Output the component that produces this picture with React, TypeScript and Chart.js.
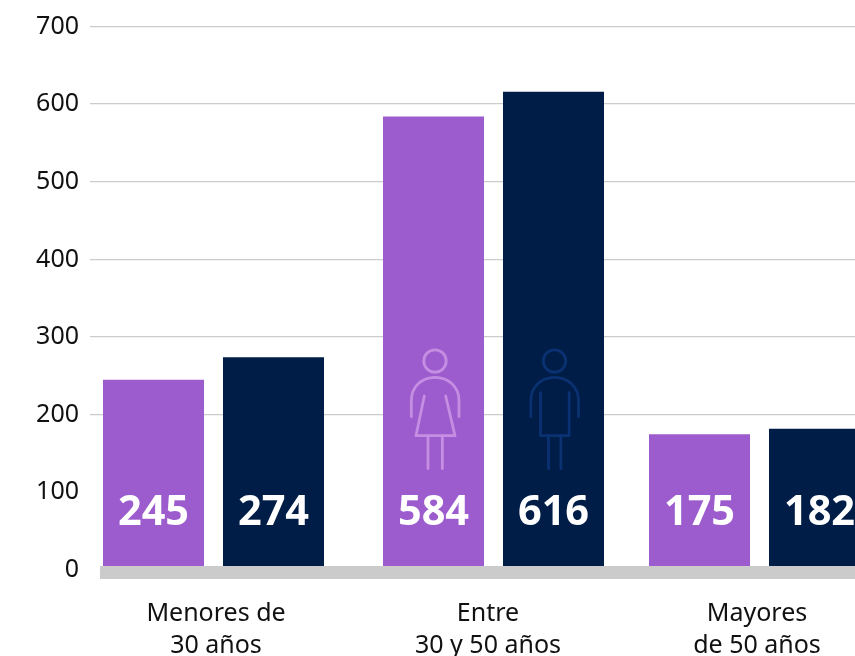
import React, { useEffect, useRef } from "react";
import { Chart, CategoryScale, registerables } from "chart.js";

const categories = [["Menores de", "30 años"], ["Entre", "30 y 50 años"], ["Mayores", "de 50 años"]];
const mujeres = [245, 584, 175];
const hombres = [274, 616, 182];
const yTicks = [0, 100, 200, 300, 400, 500, 600, 700];
const FONT = '"Noto Sans", "Open Sans", sans-serif';
const PURPLE = "#9c5cce";
const NAVY = "#001d47";

// Uneven group spacing of the original layout, on top of a category scale
const groupShift = [-4, 21, 32];
const labelShift = [-1.5, 15.5, 29.5];

class ShiftedCategory extends CategoryScale {
  static id = "shiftedCategory";
  static defaults = (CategoryScale as any).defaults;
  getPixelForValue(value: any) {
    const base = super.getPixelForValue(value);
    const i = typeof value === "number" ? Math.round(value) : categories.findIndex((c) => c === value);
    return base + (groupShift[i] ?? 0);
  }
  getPixelForTick(index: number) {
    const t = (this as any).ticks[index];
    if (!t) return null as any;
    return super.getPixelForValue(t.value) + labelShift[t.value];
  }
}

function drawFigure(ctx: CanvasRenderingContext2D, cx: number, bottom: number, color: string, woman: boolean) {
  const X = (z: number) => cx + (z - 165) / 3;
  const Y = (z: number) => bottom - 240 + z / 3;
  const line = (pts: number[][]) => {
    ctx.beginPath();
    pts.forEach((p, i) => (i ? ctx.lineTo(X(p[0]), Y(p[1])) : ctx.moveTo(X(p[0]), Y(p[1]))));
    ctx.stroke();
  };
  ctx.save();
  ctx.strokeStyle = color;
  ctx.lineWidth = 2.8;
  ctx.lineCap = "round";
  ctx.lineJoin = "round";
  ctx.beginPath();
  ctx.arc(X(165), Y(93), 11.2, 0, Math.PI * 2);
  ctx.stroke();
  ctx.beginPath();
  ctx.moveTo(X(94), Y(260));
  ctx.lineTo(X(94), Y(212));
  ctx.bezierCurveTo(X(94), Y(170), X(125), Y(142), X(165), Y(142));
  ctx.bezierCurveTo(X(205), Y(142), X(237), Y(170), X(237), Y(212));
  ctx.lineTo(X(237), Y(260));
  ctx.stroke();
  if (woman) {
    line([[133, 198], [108, 317], [225, 317], [197, 198]]);
  } else {
    line([[123, 188], [123, 317], [209, 317], [209, 188]]);
  }
  line([[woman ? 144 : 147, 317], [woman ? 144 : 147, 416]]);
  line([[woman ? 187 : 184, 317], [woman ? 187 : 184, 416]]);
  ctx.restore();
}

const decorations = {
  id: "decorations",
  afterDatasetsDraw(chart: any) {
    const { ctx, scales } = chart;
    const y0 = scales.y.getPixelForValue(0);
    ctx.save();
    ctx.fillStyle = "#cbcbcb";
    ctx.fillRect(100, y0 - 4, chart.width - 100, 13);
    ctx.restore();

    const m0 = chart.getDatasetMeta(0).data;
    const m1 = chart.getDatasetMeta(1).data;
    drawFigure(ctx, m0[1].x + 1.5, y0, "#c58ee3", true);
    drawFigure(ctx, m1[1].x + 1, y0, "#0a3172", false);

    ctx.save();
    ctx.fillStyle = "#ffffff";
    ctx.font = `700 41.5px ${FONT}`;
    ctx.textAlign = "center";
    ctx.textBaseline = "middle";
    [0, 1].forEach((d) => {
      const meta = chart.getDatasetMeta(d).data;
      const vals = d === 0 ? mujeres : hombres;
      meta.forEach((bar: any, i: number) => {
        ctx.fillText(String(vals[i]), bar.x, scales.y.getPixelForValue(73));
      });
    });
    ctx.restore();
  },
};

export default function App() {
  const ref = useRef<HTMLCanvasElement>(null);
  useEffect(() => {
    Chart.register(...registerables, ShiftedCategory as any);
    const chart = new Chart(ref.current!, {
      type: "bar",
      data: {
        labels: categories as any,
        datasets: [
          { label: "Mujeres", data: mujeres, backgroundColor: PURPLE, clip: false as any },
          { label: "Hombres", data: hombres, backgroundColor: NAVY, clip: false as any },
        ],
      },
      plugins: [decorations],
      options: {
        animation: false,
        responsive: false,
        categoryPercentage: 0.9023,
        barPercentage: 0.8417,
        layout: { padding: { top: 26.5, left: 0, right: 0, bottom: 0 } },
        plugins: { legend: { display: false }, tooltip: { enabled: false } },
        scales: {
          x: {
            type: "shiftedCategory" as any,
            grid: { display: false },
            border: { display: false },
            afterFit: (s: any) => { s.height = 86; },
            ticks: {
              color: "#111111",
              font: { family: FONT, size: 25, lineHeight: 1.28 },
              padding: 20,
              maxRotation: 0,
              autoSkip: false,
            },
          },
          y: {
            min: 0,
            max: 700,
            grid: {
              color: (c: any) => (c.tick && c.tick.value > 100 ? "#cccccc" : "rgba(0,0,0,0)"),
              lineWidth: 1.3,
              drawTicks: false,
            },
            border: { display: false },
            afterFit: (s: any) => { s.width = 90; },
            afterBuildTicks: (s: any) => { s.ticks = yTicks.map((value) => ({ value })); },
            ticks: {
              color: "#111111",
              font: { family: FONT, size: 25 },
              padding: 11,
            },
          },
        },
      } as any,
    });
    return () => chart.destroy();
  }, []);
  return (
    <canvas
      ref={ref}
      width={855}
      height={656}
      style={{ position: "absolute", left: 0, top: 0, width: 855, height: 656 }}
    />
  );
}
